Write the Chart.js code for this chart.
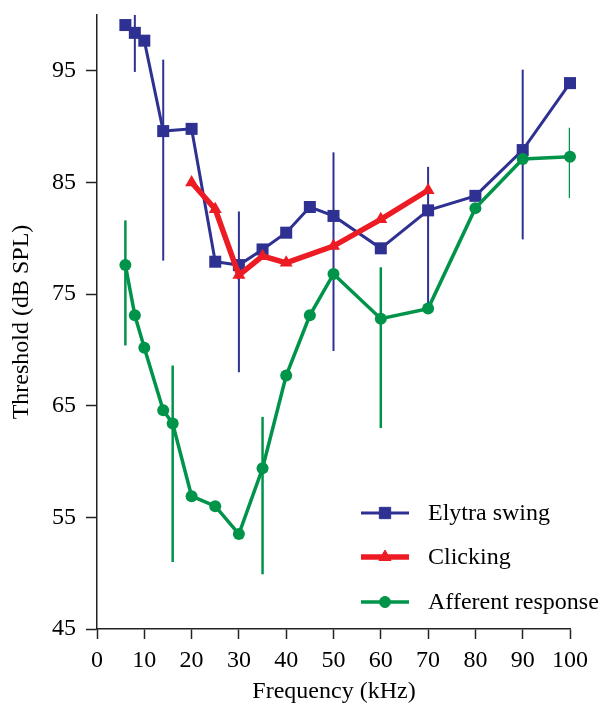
<html>
<head>
    <title>Threshold curves</title>
    <script src="https://cdn.jsdelivr.net/npm/chart.js@4.4.1/dist/chart.umd.min.js"></script>
    <style>
        body { margin: 0; background: #fff; }
        #wrap { width: 602px; height: 707px; position: relative; }
    </style>
</head>
<body>
    <div id="wrap"><canvas id="chart"></canvas></div>
</body>
<script>
    const xTicks = [0, 10, 20, 30, 40, 50, 60, 70, 80, 90, 100];
    const yTicks = [45, 55, 65, 75, 85, 95];

    // Elytra swing
    const swingFreq = [6, 8, 10, 14, 20, 25, 30, 35, 40, 45, 50, 60, 70, 80, 90, 100];
    const swingDb = [99.1, 98.4, 97.7, 89.6, 89.8, 77.9, 77.6, 79.0, 80.5, 82.8, 82.0, 79.1, 82.5, 83.8, 87.9, 93.9];
    const swingErrFreq = [8, 14, 30, 50, 70, 90];
    const swingErrLow = [94.9, 78.0, 68.0, 69.9, 74.2, 79.9];
    const swingErrHigh = [100.2, 96.0, 82.4, 87.7, 86.4, 95.1];

    // Clicking
    const clickFreq = [20, 25, 30, 35, 40, 50, 60, 70];
    const clickDb = [85.0, 82.6, 76.7, 78.4, 77.8, 79.3, 81.7, 84.3];

    // Afferent response
    const affFreq = [6, 8, 10, 14, 16, 20, 25, 30, 35, 40, 45, 50, 60, 70, 80, 90, 100];
    const affDb = [77.6, 73.1, 70.2, 64.6, 63.4, 56.9, 56.0, 53.5, 59.4, 67.7, 73.1, 76.8, 72.8, 73.7, 82.7, 87.1, 87.3];
    const affErrFreq = [6, 16, 35, 60, 100];
    const affErrLow = [70.4, 51.0, 49.9, 63.0, 83.6];
    const affErrHigh = [81.6, 68.6, 64.0, 77.4, 89.9];

    const BLUE = '#2e3192';
    const RED = '#ed1c24';
    const GREEN = '#00934a';
    const FONT = "'Liberation Serif', 'Times New Roman', serif";

    const pts = (xs, ys) => xs.map((x, i) => ({x: x, y: ys[i]}));

    const errorBars = {
        id: 'errorBars',
        beforeDatasetsDraw(chart) {
            const {ctx, chartArea, scales} = chart;
            const sets = [
                {f: swingErrFreq, lo: swingErrLow, hi: swingErrHigh, color: BLUE, w: 2},
                {f: affErrFreq, lo: affErrLow, hi: affErrHigh, color: GREEN, w: 2.5}
            ];
            ctx.save();
            ctx.beginPath();
            ctx.rect(chartArea.left, chartArea.top, chartArea.right - chartArea.left, chartArea.bottom - chartArea.top);
            ctx.clip();
            sets.forEach(s => {
                ctx.strokeStyle = s.color;
                ctx.lineWidth = s.w;
                s.f.forEach((f, i) => {
                    const x = scales.x.getPixelForValue(f);
                    ctx.beginPath();
                    ctx.moveTo(x, scales.y.getPixelForValue(s.lo[i]));
                    ctx.lineTo(x, scales.y.getPixelForValue(s.hi[i]));
                    ctx.stroke();
                });
            });
            ctx.restore();
        }
    };

    // legend drawn as line + marker, bottom right
    const lineLegend = {
        id: 'lineLegend',
        afterDraw(chart) {
            const ctx = chart.ctx;
            const rows = [513, 557, 602];
            ctx.save();
            chart.data.datasets.forEach((ds, r) => {
                const y = rows[r];
                ctx.strokeStyle = ds.borderColor;
                ctx.lineWidth = ds.borderWidth;
                ctx.beginPath();
                ctx.moveTo(361, y);
                ctx.lineTo(409, y);
                ctx.stroke();
                ctx.fillStyle = ds.borderColor;
                ctx.strokeStyle = ds.borderColor;
                ctx.lineWidth = 1;
                Chart.helpers.drawPoint(ctx, {pointStyle: ds.pointStyle, radius: ds.legendRadius, rotation: 0, borderWidth: 1}, 385, y);
                ctx.fillStyle = '#000';
                ctx.font = '24px ' + FONT;
                ctx.textBaseline = 'middle';
                ctx.textAlign = 'left';
                ctx.fillText(ds.label, 428, y + 1);
            });
            ctx.restore();
        }
    };

    // axis titles
    const axisTitles = {
        id: 'axisTitles',
        afterDraw(chart) {
            const ctx = chart.ctx;
            ctx.save();
            ctx.fillStyle = '#000';
            ctx.font = '24px ' + FONT;
            ctx.textAlign = 'center';
            ctx.textBaseline = 'middle';
            ctx.fillText('Frequency (kHz)', 334, 692);
            ctx.translate(22, 322);
            ctx.rotate(-Math.PI / 2);
            ctx.fillText('Threshold (dB SPL)', 0, 0);
            ctx.restore();
        }
    };

    new Chart(document.getElementById('chart'), {
        type: 'line',
        data: {
            datasets: [
                {
                    label: 'Elytra swing',
                    data: pts(swingFreq, swingDb),
                    borderColor: BLUE,
                    backgroundColor: BLUE,
                    borderWidth: 3,
                    pointStyle: 'rect',
                    pointRadius: 8.5,
                    legendRadius: 8,
                    pointBorderWidth: 0,
                    order: 3
                },
                {
                    label: 'Clicking',
                    data: pts(clickFreq, clickDb),
                    borderColor: RED,
                    backgroundColor: RED,
                    borderWidth: 5.5,
                    pointStyle: 'triangle',
                    pointRadius: 7.5,
                    legendRadius: 7,
                    pointBorderWidth: 0,
                    order: 1
                },
                {
                    label: 'Afferent response',
                    data: pts(affFreq, affDb),
                    borderColor: GREEN,
                    backgroundColor: GREEN,
                    borderWidth: 3.5,
                    pointStyle: 'circle',
                    pointRadius: 6,
                    legendRadius: 5.5,
                    pointBorderWidth: 0,
                    order: 2
                }
            ]
        },
        options: {
            responsive: true,
            maintainAspectRatio: false,
            animation: false,
            clip: false,
            layout: { padding: { top: 15, right: 32, left: 0, bottom: 0 } },
            plugins: {
                legend: { display: false },
                tooltip: { enabled: false }
            },
            scales: {
                x: {
                    type: 'linear',
                    min: 0,
                    max: 100,
                    afterBuildTicks: s => { s.ticks = xTicks.map(v => ({value: v})); },
                    afterFit: s => { s.height = 78; s.paddingLeft = 0; s.paddingRight = 0; },
                    grid: { drawOnChartArea: false, drawTicks: true, tickLength: 10, tickColor: '#222', tickWidth: 1.5 },
                    border: { color: '#222', width: 1.5 },
                    ticks: { color: '#000', padding: 7, font: { family: FONT, size: 24 }, maxRotation: 0 }
                },
                y: {
                    type: 'linear',
                    min: 45,
                    max: 100,
                    afterBuildTicks: s => { s.ticks = yTicks.map(v => ({value: v})); },
                    afterFit: s => { s.width = 97; s.paddingTop = 0; s.paddingBottom = 0; },
                    grid: { drawOnChartArea: false, drawTicks: true, tickLength: 11, tickColor: '#222', tickWidth: 1.5 },
                    border: { color: '#222', width: 1.5 },
                    ticks: { color: '#000', padding: 10, font: { family: FONT, size: 24 } }
                }
            }
        },
        plugins: [errorBars, lineLegend, axisTitles]
    });
</script>
</html>
